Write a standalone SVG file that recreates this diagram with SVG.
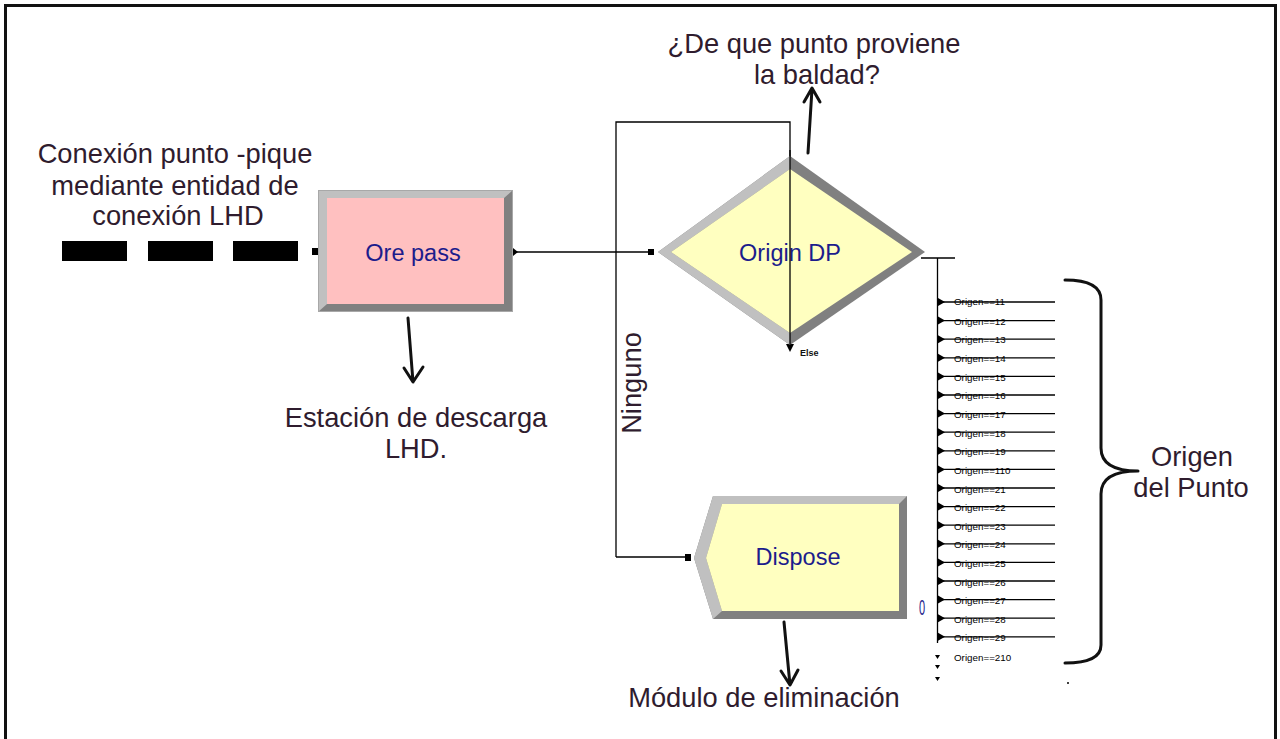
<svg xmlns="http://www.w3.org/2000/svg" width="1280" height="739" viewBox="0 0 1280 739">
<defs>
<style>
.ann{font-family:"Liberation Sans",Arial,sans-serif;font-size:27.3px;fill:#2f1c2e;text-anchor:middle}
.node{font-family:"Liberation Sans",Arial,sans-serif;font-size:23.5px;fill:#1c1c8c;text-anchor:middle}
.lbl{font-family:"Liberation Sans",Arial,sans-serif;font-size:9.8px;fill:#000}
.cn{fill:none;stroke:#000;stroke-width:1.3}
.big{fill:none;stroke:#111;stroke-width:3;stroke-linecap:round;stroke-linejoin:round}
.lt{fill:#c0c0c0}
.dk{fill:#808080}
</style>
</defs>
<rect x="0" y="0" width="1280" height="739" fill="#fff"/>
<rect x="5.5" y="5.5" width="1270" height="740" fill="none" stroke="#111" stroke-width="3"/>

<!-- annotation texts -->
<g id="annotations">
<text class="ann" x="175" y="163">Conexión punto -pique</text>
<text class="ann" x="175" y="195">mediante entidad de</text>
<text class="ann" x="178" y="225">conexión LHD</text>
<text class="ann" x="814" y="53">¿De que punto proviene</text>
<text class="ann" x="817" y="84">la baldad?</text>
<text class="ann" x="416" y="427">Estación de descarga</text>
<text class="ann" x="416" y="458">LHD.</text>
<text class="ann" x="764" y="707">Módulo de eliminación</text>
<text class="ann" x="1192" y="466">Origen</text>
<text class="ann" x="1191" y="497">del Punto</text>
<text class="ann" transform="translate(641,383) rotate(-90)">Ninguno</text>
</g>

<!-- dashed entity connection -->
<g id="entity-connection">
<rect x="62" y="241" width="65" height="20" fill="#000"/>
<rect x="148" y="241" width="65" height="20" fill="#000"/>
<rect x="233" y="241" width="65" height="20" fill="#000"/>
<rect x="312" y="248" width="6" height="7" fill="#000"/>
</g>

<!-- connectors -->
<g id="connectors">
<line class="cn" x1="514" y1="252" x2="652" y2="252"/>
<path d="M513,248 L518,252 L513,256 Z" fill="#000"/>
<rect x="648" y="249" width="6" height="6" fill="#000"/>
<polyline class="cn" points="616,557 616,122 790,122 790,346"/>
<path d="M786,344 L790,352 L794,344 Z" fill="#000"/>
<text x="800" y="356" font-family="Liberation Sans,Arial,sans-serif" font-size="9" font-weight="bold" fill="#111">Else</text>
<line class="cn" x1="616" y1="557" x2="688" y2="557"/>
<rect x="685" y="554" width="6" height="7" fill="#000"/>
<line class="cn" x1="921" y1="258" x2="955" y2="258"/>
<line class="cn" x1="937.5" y1="258" x2="937.5" y2="643"/>
</g>

<!-- branch outputs -->
<g id="branches">
<g class="cn">
<line x1="937" y1="302" x2="1055" y2="302"/>
<line x1="937" y1="320.6" x2="1055" y2="320.6"/>
<line x1="937" y1="339.2" x2="1055" y2="339.2"/>
<line x1="937" y1="357.8" x2="1055" y2="357.8"/>
<line x1="937" y1="376.4" x2="1055" y2="376.4"/>
<line x1="937" y1="395" x2="1055" y2="395"/>
<line x1="937" y1="413.6" x2="1055" y2="413.6"/>
<line x1="937" y1="432.2" x2="1055" y2="432.2"/>
<line x1="937" y1="450.8" x2="1055" y2="450.8"/>
<line x1="937" y1="469.4" x2="1055" y2="469.4"/>
<line x1="937" y1="488" x2="1055" y2="488"/>
<line x1="937" y1="506.6" x2="1055" y2="506.6"/>
<line x1="937" y1="525.2" x2="1055" y2="525.2"/>
<line x1="937" y1="543.8" x2="1055" y2="543.8"/>
<line x1="937" y1="562.4" x2="1055" y2="562.4"/>
<line x1="937" y1="581" x2="1055" y2="581"/>
<line x1="937" y1="599.6" x2="1055" y2="599.6"/>
<line x1="937" y1="618.2" x2="1055" y2="618.2"/>
<line x1="937" y1="636.8" x2="1055" y2="636.8"/>
</g>
<g fill="#000">
<path d="M938,298 L945,302 L938,306 Z"/>
<path d="M938,316.6 L945,320.6 L938,324.6 Z"/>
<path d="M938,335.2 L945,339.2 L938,343.2 Z"/>
<path d="M938,353.8 L945,357.8 L938,361.8 Z"/>
<path d="M938,372.4 L945,376.4 L938,380.4 Z"/>
<path d="M938,391 L945,395 L938,399 Z"/>
<path d="M938,409.6 L945,413.6 L938,417.6 Z"/>
<path d="M938,428.2 L945,432.2 L938,436.2 Z"/>
<path d="M938,446.8 L945,450.8 L938,454.8 Z"/>
<path d="M938,465.4 L945,469.4 L938,473.4 Z"/>
<path d="M938,484 L945,488 L938,492 Z"/>
<path d="M938,502.6 L945,506.6 L938,510.6 Z"/>
<path d="M938,521.2 L945,525.2 L938,529.2 Z"/>
<path d="M938,539.8 L945,543.8 L938,547.8 Z"/>
<path d="M938,558.4 L945,562.4 L938,566.4 Z"/>
<path d="M938,577 L945,581 L938,585 Z"/>
<path d="M938,595.6 L945,599.6 L938,603.6 Z"/>
<path d="M938,614.2 L945,618.2 L938,622.2 Z"/>
<path d="M938,632.8 L945,636.8 L938,640.8 Z"/>
<path d="M935,655 L940,655 L937.5,659 Z"/>
<path d="M935,665 L940,665 L937.5,669 Z"/>
<path d="M935,677 L940,677 L937.5,681 Z"/>
<circle cx="1068" cy="683" r="1"/>
</g>
<g class="lbl">
<text x="954" y="305">Origen==11</text>
<text x="954" y="325">Origen==12</text>
<text x="954" y="343">Origen==13</text>
<text x="954" y="362">Origen==14</text>
<text x="954" y="381">Origen==15</text>
<text x="954" y="399">Origen==16</text>
<text x="954" y="418">Origen==17</text>
<text x="954" y="437">Origen==18</text>
<text x="954" y="455">Origen==19</text>
<text x="954" y="474">Origen==110</text>
<text x="954" y="493">Origen==21</text>
<text x="954" y="511">Origen==22</text>
<text x="954" y="530">Origen==23</text>
<text x="954" y="548">Origen==24</text>
<text x="954" y="567">Origen==25</text>
<text x="954" y="586">Origen==26</text>
<text x="954" y="604">Origen==27</text>
<text x="954" y="623">Origen==28</text>
<text x="954" y="641">Origen==29</text>
<text x="954" y="661">Origen==210</text>
</g>
</g>

<!-- brace -->
<g id="brace">
<path class="big" d="M1065,280 Q1101,280 1101,300 L1101,448 Q1101,471 1138,471 Q1101,471 1101,494 L1101,645 Q1101,663 1065,663"/>
</g>

<!-- arrows -->
<g id="arrows">
<path class="big" d="M408,318 L413,382 M404,368 L413,382 L423,367"/>
<path class="big" d="M808,153 L812,89 M804,102 L812,88 L820,102"/>
<path class="big" d="M784,622 L790,685 M781,671 L790,685 L798,670"/>
</g>

<!-- Ore pass -->
<g id="ore-pass">
<rect x="318" y="190" width="195" height="122" fill="#808080"/>
<polygon class="lt" points="318,190 513,190 504,198 327,198 327,304 318,312"/>
<rect x="327" y="198" width="177" height="106" fill="#ffc0c0"/>
<rect x="318.5" y="190.5" width="194" height="121" fill="none" stroke="#a8a8a8" stroke-width="1"/>
<text class="node" x="413" y="261">Ore pass</text>
</g>

<!-- Origin DP -->
<g id="origin-dp">
<polygon class="dk" points="658,252 790,156 925,252 790,345"/>
<polygon class="lt" points="658,252 790,156 790,169 671,252 790,333 790,345"/>
<polygon points="671,252 790,169 912,252 790,333" fill="#ffffc0"/>
<text class="node" x="790" y="261">Origin DP</text>
</g>
<line class="cn" x1="790" y1="150" x2="790" y2="346"/>

<!-- Dispose -->
<g id="dispose">
<polygon class="dk" points="694,558 713,496 907,496 907,619 713,619"/>
<polygon class="lt" points="694,558 713,496 907,496 899,504 722,504 706,558 722,611 713,619"/>
<polygon points="706,558 722,504 899,504 899,611 722,611" fill="#ffffc0"/>
<text class="node" x="798" y="565">Dispose</text>
<text x="922" y="615" font-family="Liberation Sans,Arial,sans-serif" font-size="22" fill="#1c1c8c" text-anchor="middle" transform="translate(922,0) scale(0.5,1) translate(-922,0)">0</text>
</g>
</svg>
